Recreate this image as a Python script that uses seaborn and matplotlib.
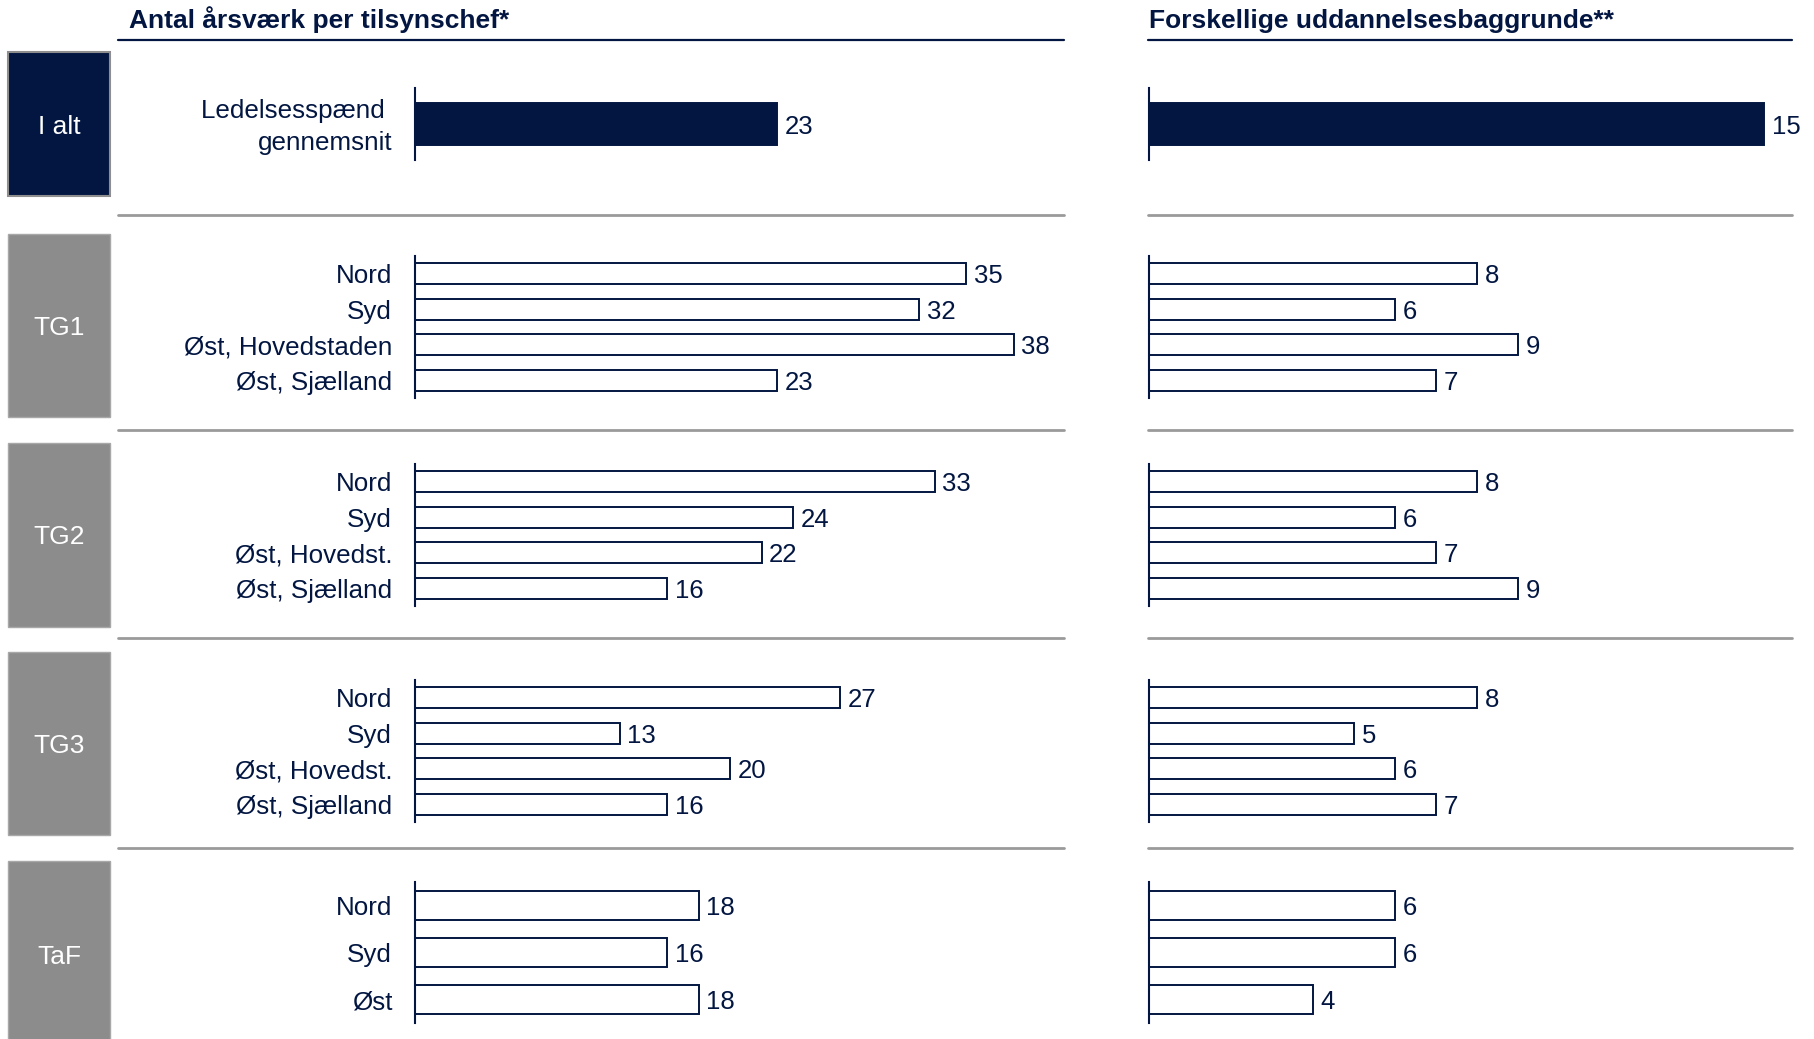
import matplotlib
matplotlib.use("Agg")
import matplotlib.pyplot as plt
import seaborn as sns
from matplotlib.patches import Rectangle
from matplotlib.lines import Line2D

sns.set_theme(style="white")
plt.rcParams["font.family"] = ["Liberation Sans", "DejaVu Sans"]

NAVY = "#021641"
BOX_GREY = "#8C8C8C"
RULE_GREY = "#9A9A9A"

# ---- data -------------------------------------------------------------
group_names = ["I alt", "TG1", "TG2", "TG3", "TaF"]

ialt_labels = ["Ledelsesspænd \ngennemsnit"]
tg1_labels = ["Nord", "Syd", "Øst, Hovedstaden", "Øst, Sjælland"]
tg2_labels = ["Nord", "Syd", "Øst, Hovedst.", "Øst, Sjælland"]
tg3_labels = ["Nord", "Syd", "Øst, Hovedst.", "Øst, Sjælland"]
taf_labels = ["Nord", "Syd", "Øst"]

# Antal årsværk per tilsynschef
aarsvaerk_ialt = [23]
aarsvaerk_tg1 = [35, 32, 38, 23]
aarsvaerk_tg2 = [33, 24, 22, 16]
aarsvaerk_tg3 = [27, 13, 20, 16]
aarsvaerk_taf = [18, 16, 18]

# Forskellige uddannelsesbaggrunde
uddannelse_ialt = [15]
uddannelse_tg1 = [8, 6, 9, 7]
uddannelse_tg2 = [8, 6, 7, 9]
uddannelse_tg3 = [8, 5, 6, 7]
uddannelse_taf = [6, 6, 4]

title_left = "Antal årsværk per tilsynschef*"
title_right = "Forskellige uddannelsesbaggrunde**"

group_labels = [ialt_labels, tg1_labels, tg2_labels, tg3_labels, taf_labels]
left_values = [aarsvaerk_ialt, aarsvaerk_tg1, aarsvaerk_tg2, aarsvaerk_tg3, aarsvaerk_taf]
right_values = [uddannelse_ialt, uddannelse_tg1, uddannelse_tg2, uddannelse_tg3, uddannelse_taf]

# ---- layout (pixels from the top-left corner) -------------------------
W, H = 1815, 1039
fig = plt.figure(figsize=(W / 100, H / 100), dpi=100)


def fx(x):
    return x / W


def fy(y):
    return 1 - y / H


row_spans = [(88, 160), (256, 398), (464, 606), (680, 822), (882, 1023)]
box_spans = [(52, 196), (234, 417), (443, 627), (652, 835), (861, 1050)]
bar_widths = [0.59, 0.58, 0.58, 0.58, 0.61]
separators = [215, 430, 638, 848]
left_x0, left_x1 = 415, 1064
right_x0, right_x1 = 1149, 1792
left_xmax = (left_x1 - left_x0) / 15.75
right_xmax = (right_x1 - right_x0) / 41.0


def draw_group(x0, x1, xmax, span, labels, values, width, solid, show_labels):
    top, bottom = span
    ax = fig.add_axes([fx(x0), fy(bottom), (x1 - x0) / W, (bottom - top) / H])
    sns.barplot(
        x=values, y=labels, orient="h", ax=ax,
        color=NAVY if solid else "white", saturation=1,
        edgecolor=NAVY, linewidth=1.4, width=width, errorbar=None,
    )
    ax.set_xlim(0, xmax)
    ax.set_xlabel("")
    ax.set_ylabel("")
    ax.set_xticks([])
    for side in ("top", "right", "bottom"):
        ax.spines[side].set_visible(False)
    ax.spines["left"].set_color(NAVY)
    ax.spines["left"].set_linewidth(1.5)
    ax.set_facecolor("none")
    multiline = any("\n" in lab for lab in labels)
    ax.tick_params(axis="y", length=0, pad=16.5, labelsize=18.7,
                   labelcolor=NAVY, labelleft=show_labels and not multiline)
    if show_labels and multiline:
        # two-line category name, centred on its bar
        for pos, lab in enumerate(labels):
            ax.annotate(lab, xy=(0, pos), xycoords=("axes fraction", "data"),
                        xytext=(-16.5, -2.2), textcoords="offset points",
                        ha="right", va="center", multialignment="right",
                        fontsize=18.7, color=NAVY, linespacing=1.45)
    texts = ax.bar_label(ax.containers[0], padding=5.5, fontsize=18.5, color=NAVY)
    for t in texts:
        t.set_va("center_baseline")
    return ax


for i in range(len(group_names)):
    solid = i == 0
    draw_group(left_x0, left_x1, left_xmax, row_spans[i], group_labels[i],
               left_values[i], bar_widths[i], solid, True)
    draw_group(right_x0, right_x1, right_xmax, row_spans[i], group_labels[i],
               right_values[i], bar_widths[i], solid, False)

    # group box on the far left
    btop, bbot = box_spans[i]
    fig.add_artist(Rectangle(
        (fx(8.5), fy(bbot)), (110 - 8.5) / W, (bbot - btop) / H,
        facecolor=NAVY if solid else BOX_GREY,
        edgecolor="#8E8E8E" if solid else "#A8A8A8",
        linewidth=1.5 if solid else 1.0,
    ))
    cy = (btop + bbot) / 2 if i < 4 else (btop + 1039) / 2 + 5
    fig.text(fx(59), fy(cy), group_names[i], color="white", fontsize=19,
             ha="center", va="center_baseline")

# titles with their underlines
fig.text(fx(129), fy(28), title_left, fontsize=19, fontweight="bold",
         color=NAVY, va="baseline")
fig.text(fx(1149), fy(28), title_right, fontsize=19, fontweight="bold",
         color=NAVY, va="baseline")
fig.add_artist(Line2D([fx(118), fx(left_x1)], [fy(40), fy(40)], color=NAVY, lw=1.6))
fig.add_artist(Line2D([fx(1148), fx(right_x1)], [fy(40), fy(40)], color=NAVY, lw=1.6))

# grey rules between the groups
for y in separators:
    fig.add_artist(Line2D([fx(118), fx(left_x1)], [fy(y), fy(y)], color=RULE_GREY, lw=2.0))
    fig.add_artist(Line2D([fx(1148), fx(right_x1)], [fy(y), fy(y)], color=RULE_GREY, lw=2.0))

fig.savefig("out.png", dpi=100, facecolor="white")
